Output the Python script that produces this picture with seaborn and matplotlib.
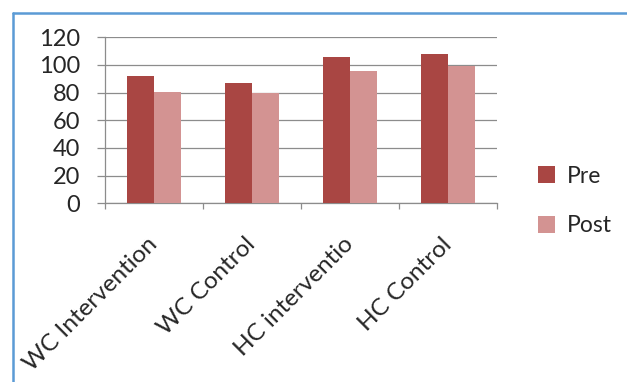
import matplotlib
matplotlib.use("Agg")
import matplotlib.pyplot as plt
from matplotlib.lines import Line2D
from matplotlib.ticker import FixedLocator
import seaborn as sns
import pandas as pd

# Group means before and after
groups = ["WC Intervention", "WC Control", "HC interventio", "HC Control"]
pre = [91.8, 87.2, 105.5, 107.7]
post = [80.4, 79.5, 95.2, 98.8]
series = ["Pre", "Post"]
colors = ["#A94643", "#D39392"]
yticks = [0, 20, 40, 60, 80, 100, 120]

df = pd.DataFrame({
    "group": groups * 2,
    "phase": ["Pre"] * len(groups) + ["Post"] * len(groups),
    "value": pre + post,
})

sns.set_theme(style="white")
plt.rcParams["font.family"] = ["Lato", "DejaVu Sans"]
text_color = "#262626"
grid_color = "#8C8C8C"

fig = plt.figure(figsize=(6.27, 3.82), dpi=100)
ax = fig.add_axes([0.1675, 0.4673, 0.7927 - 0.1675, 0.9031 - 0.4673])

sns.barplot(data=df, x="group", y="value", hue="phase", hue_order=series,
            palette=colors, width=0.56, gap=0, dodge=True, saturation=1,
            errorbar=None, ax=ax, zorder=3, linewidth=0)

ax.set_ylim(0, 120)
ax.set_xlim(-0.5, len(groups) - 0.5)
ax.set_yticks(yticks)
ax.set_yticklabels([str(t) for t in yticks], fontsize=17, color=text_color)
ax.yaxis.grid(True, color=grid_color, linewidth=0.9, zorder=0)
ax.set_axisbelow(True)

ax.set_xticks(range(len(groups)))
ax.set_xticklabels(groups, rotation=45, ha="right", va="center",
                   rotation_mode="anchor", fontsize=17.5, color=text_color)
ax.xaxis.set_minor_locator(FixedLocator([i - 0.5 for i in range(len(groups) + 1)]))
ax.tick_params(axis="x", which="major", length=0, pad=27)
ax.tick_params(axis="x", which="minor", length=4.5, width=0.9,
               color=grid_color, direction="out", bottom=True)
ax.tick_params(axis="y", which="major", length=5.8, width=0.9,
               color=grid_color, direction="out", left=True, pad=12)
ax.set_xlabel("")
ax.set_ylabel("")

for side in ("top", "right"):
    ax.spines[side].set_visible(False)
for side in ("left", "bottom"):
    ax.spines[side].set_color(grid_color)
    ax.spines[side].set_linewidth(0.9)

handles, labels = ax.get_legend_handles_labels()
ax.legend(handles, labels, loc="center left",
          bbox_to_anchor=(0.858, 0.474), bbox_transform=fig.transFigure,
          frameon=False, fontsize=16.5, handlelength=0.75, handleheight=0.75,
          handletextpad=0.5, labelspacing=1.25, borderpad=0, borderaxespad=0,
          labelcolor=text_color)

# Chart area border along the top and left edges
border = "#5B9BD5"
x0 = 12.5 / 627
y0 = 1 - 12.5 / 382
fig.add_artist(Line2D([x0, 1.0], [y0, y0], transform=fig.transFigure,
                      color=border, linewidth=1.8))
fig.add_artist(Line2D([x0, x0], [0.0, y0], transform=fig.transFigure,
                      color=border, linewidth=1.8))

fig.savefig("out.png", dpi=100)
